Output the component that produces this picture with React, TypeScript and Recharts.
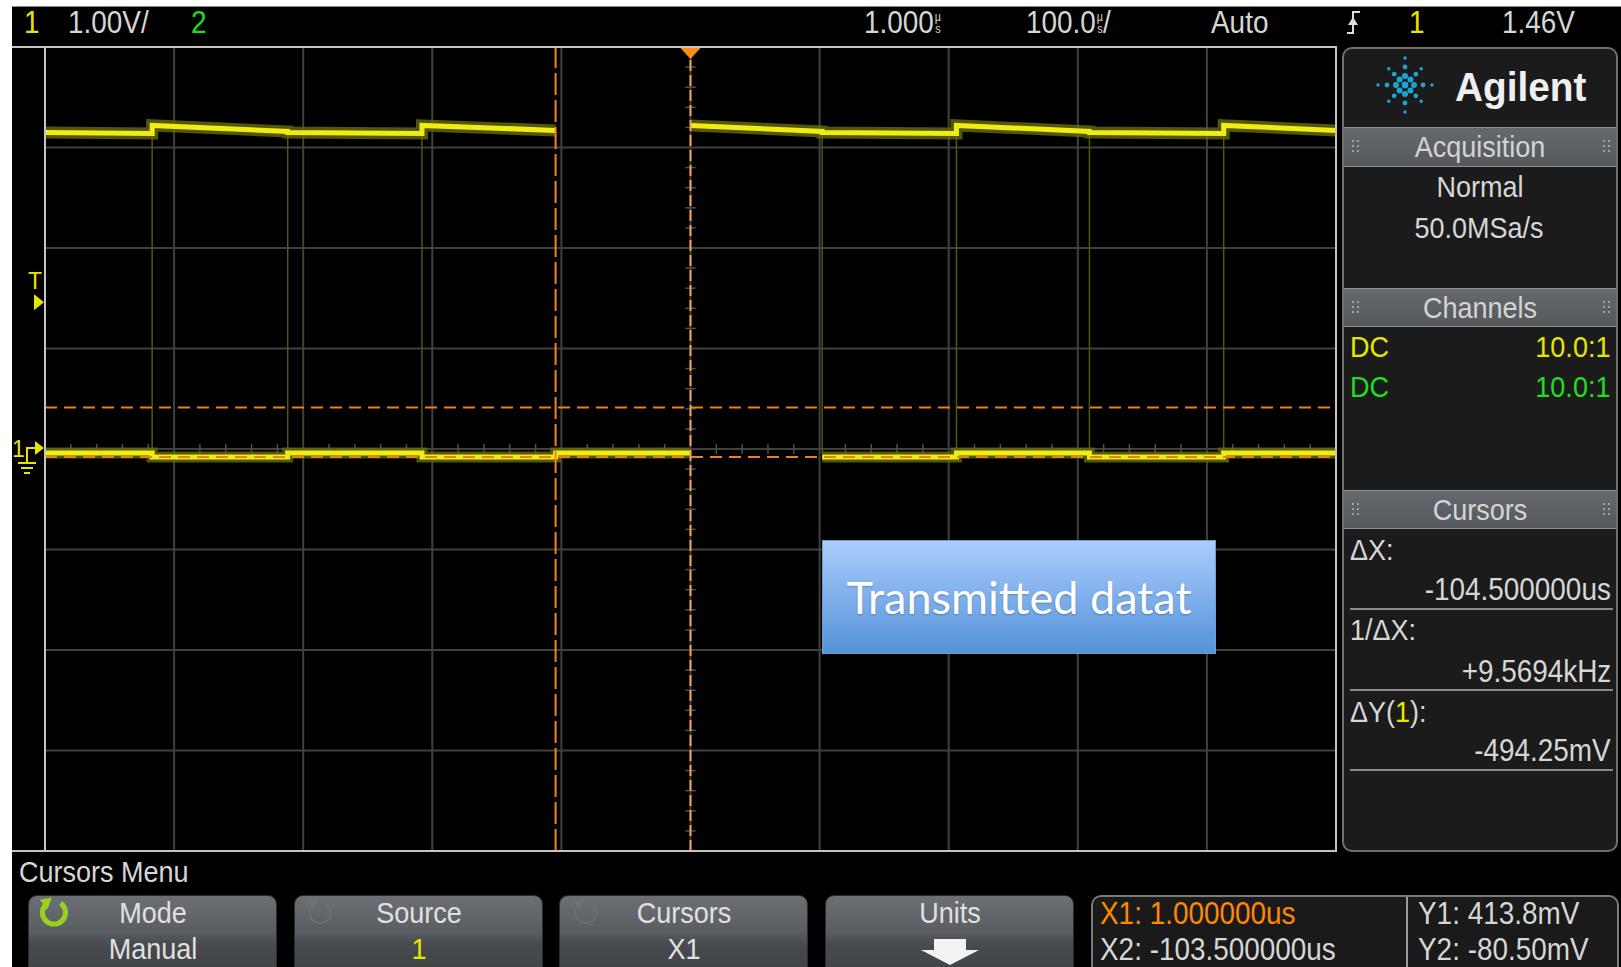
import React from 'react';
import { ComposedChart, Line, XAxis, YAxis, CartesianGrid, ReferenceLine, ReferenceDot } from 'recharts';

const W = 1621;
const H = 967;
const SCOPE = '"Liberation Sans", Arial, sans-serif';
const SQUEEZE = 0.9; // scope font is tall and narrow

// 100 us/div, 1.000 us delay -> screen spans -499..501 us; 1.00 V/div, 8 div
const xGridTicks = [-499, -399, -299, -199, -99, 1, 101, 201, 301, 401, 501];
const yGridTicks = [-4, -3, -2, -1, 0, 1, 2, 3, 4];

// bit boundaries (us), incl. screen edges
const bitBounds = [-499, -416, -311, -207, -103.5, 1, 103, 207, 310, 414, 501];
// upper trace level at start / end of each bit (V), null = not drawn
const upperStart = [3.15, 3.22, 3.15, 3.22, null, 3.22, 3.15, 3.22, 3.15, 3.22];
const upperEnd = [3.14, 3.16, 3.14, 3.17, null, 3.16, 3.14, 3.16, 3.14, 3.17];
// lower trace level per bit (V)
const lowerLevel = [-0.04, -0.08, -0.04, -0.08, -0.04, null, -0.08, -0.04, -0.08, -0.04];
// faint signal edges
const edgeTimes = [-416, -311, -207, 103, 207, 310, 414];

// cursors / trigger
const cursorX1 = 1.0;
const cursorX2 = -103.5;
const cursorY1 = 0.4138;
const cursorY2 = -0.0805;
const triggerLevel = 1.46;

// minor ticks on the centre axes (every 1/5 div)
const minorT = Array.from({ length: 49 }, (_, i) => -479 + i * 20).filter((t) => (t + 499) % 100 !== 0);
const minorV = Array.from({ length: 39 }, (_, i) => Math.round((-3.8 + i * 0.2) * 10) / 10).filter((v) => v % 1 !== 0);

function buildTrace(starts: (number | null)[], ends: (number | null)[]) {
  const pts: { t: number; v: number | null }[] = [];
  for (let i = 0; i < bitBounds.length - 1; i++) {
    const a = bitBounds[i];
    const b = bitBounds[i + 1];
    if (starts[i] == null) {
      pts.push({ t: (a + b) / 2, v: null });
      continue;
    }
    pts.push({ t: a, v: starts[i] }, { t: b, v: ends[i] });
  }
  return pts;
}
const upperTrace = buildTrace(upperStart, upperEnd);
const lowerTrace = buildTrace(lowerLevel, lowerLevel);

type TxtProps = {
  x: number;
  y: number;
  size?: number;
  color?: string;
  align?: 'left' | 'right' | 'center';
  weight?: number;
  font?: string;
  squeeze?: number;
  children: React.ReactNode;
};

const Txt = ({ x, y, size = 31, color = '#d6d6d6', align = 'left', weight = 400, font = SCOPE, squeeze = SQUEEZE, children }: TxtProps) => {
  const style: React.CSSProperties = {
    position: 'absolute',
    top: y - size / 2,
    fontSize: size,
    lineHeight: `${size}px`,
    height: size,
    color,
    fontFamily: font,
    fontWeight: weight,
    whiteSpace: 'nowrap',
  };
  if (align === 'left') style.left = x;
  else if (align === 'right') style.right = W - x;
  else {
    style.left = x;
    style.transform = 'translateX(-50%)';
  }
  const origin = align === 'left' ? 'left center' : align === 'right' ? 'right center' : 'center center';
  return (
    <div style={style}>
      <span style={{ display: 'inline-block', transform: `scaleX(${squeeze})`, transformOrigin: origin }}>{children}</span>
    </div>
  );
};

// small stacked "µ over s" unit glyph used by the scope
const Us = () => (
  <span
    style={{
      display: 'inline-block',
      fontSize: 12,
      lineHeight: '12px',
      verticalAlign: 'top',
      marginTop: 4,
      marginLeft: 1,
      textAlign: 'center',
    }}
  >
    µ<br />s
  </span>
);

const Grip = ({ x, y }: { x: number; y: number }) => (
  <svg style={{ position: 'absolute', left: x, top: y - 7 }} width={8} height={14}>
    {[0, 1, 2].map((r) =>
      [0, 1].map((c) => <rect key={`${r}-${c}`} x={c * 5} y={r * 5} width={2} height={2} fill="#a0a0a0" />)
    )}
  </svg>
);

const Header = ({ top, h, label }: { top: number; h: number; label: string }) => (
  <>
    <div
      style={{
        position: 'absolute',
        left: 1344,
        top,
        width: 272,
        height: h,
        background: 'linear-gradient(180deg, #65696d 0%, #55595d 100%)',
        borderTop: '1px solid #8d9195',
        borderBottom: '1px solid #8d9195',
        boxSizing: 'border-box',
      }}
    />
    <Grip x={1352} y={top + h / 2} />
    <Grip x={1603} y={top + h / 2} />
    <Txt x={1480} y={top + h / 2} size={30} align="center" color="#d4d4d4">
      {label}
    </Txt>
  </>
);

const RotIcon = ({ x, y, color, w, s = 1 }: { x: number; y: number; color: string; w: number; s?: number }) => (
  <svg style={{ position: 'absolute', left: x - 16, top: y - 16 }} width={32} height={32} viewBox="0 0 32 32">
    <g transform={`translate(16 16) scale(${s}) translate(-16 -16)`}>
      <path d="M 10 7 A 10.5 10.5 0 1 0 22 7" fill="none" stroke={color} strokeWidth={w} />
      <polygon points="3,4 14,2 10,13" fill={color} />
    </g>
  </svg>
);

const Button = ({ left, width, top, bottom, bottomColor, icon }: { left: number; width: number; top: string; bottom?: string; bottomColor?: string; icon?: React.ReactNode }) => (
  <>
    <div
      style={{
        position: 'absolute',
        left,
        top: 895,
        width,
        height: 90,
        borderRadius: '9px 9px 0 0',
        background: 'linear-gradient(180deg, #6c7074 0%, #5a5e62 40%, #474a4e 55%, #3d4043 100%)',
        border: '1px solid #2a2c2e',
        boxSizing: 'border-box',
      }}
    />
    {icon}
    <Txt x={left + width / 2} y={913} size={30} align="center" color="#e0e0e0">
      {top}
    </Txt>
    {bottom && (
      <Txt x={left + width / 2} y={949} size={30} align="center" color={bottomColor || '#e0e0e0'}>
        {bottom}
      </Txt>
    )}
  </>
);

const AgilentLogo = () => {
  const dots: React.ReactNode[] = [];
  for (let k = 0; k < 8; k++) {
    const ang = (k * Math.PI) / 4;
    const diag = k % 2 === 1 ? 0.85 : 1;
    [9, 18, 27].forEach((r, j) => {
      dots.push(
        <circle key={`${k}-${j}`} cx={33 + Math.cos(ang) * r * diag} cy={31 + Math.sin(ang) * r * diag} r={[3, 2.4, 1.7][j]} fill="#1ba6d2" />
      );
    });
  }
  return (
    <svg style={{ position: 'absolute', left: 1372, top: 54 }} width={66} height={64}>
      <circle cx={33} cy={31} r={3.4} fill="#1ba6d2" />
      {dots}
    </svg>
  );
};

const TriggerMark = (p: any) => (
  <polygon points={`${p.cx - 10},${p.cy + 1} ${p.cx + 10},${p.cy + 1} ${p.cx},${p.cy + 12}`} fill="#ff8c1a" />
);

const LevelMark = (p: any) => (
  <g>
    <text x={p.cx - 17} y={p.cy - 13} fill="#e6e600" fontSize={23} fontFamily={SCOPE}>
      T
    </text>
    <polygon points={`${p.cx - 11},${p.cy - 8} ${p.cx - 1},${p.cy} ${p.cx - 11},${p.cy + 8}`} fill="#e6e600" />
  </g>
);

const GroundMark = (p: any) => (
  <g stroke="#e6e600" strokeWidth={2} fill="none">
    <text x={p.cx - 33} y={p.cy + 8} fill="#e6e600" stroke="none" fontSize={23} fontFamily={SCOPE}>
      1
    </text>
    <path d={`M ${p.cx - 18} ${p.cy + 14} V ${p.cy - 1} H ${p.cx - 9}`} />
    <polygon points={`${p.cx - 10},${p.cy - 8} ${p.cx - 1},${p.cy - 1} ${p.cx - 10},${p.cy + 6}`} fill="#e6e600" stroke="none" />
    <path d={`M ${p.cx - 27} ${p.cy + 14} H ${p.cx - 9} M ${p.cx - 24} ${p.cy + 19} H ${p.cx - 12} M ${p.cx - 21} ${p.cy + 24} H ${p.cx - 15}`} />
  </g>
);

const ScopeChart = () => (
  <ComposedChart width={1325} height={806} margin={{ top: 1, right: 1, bottom: 1, left: 33 }}>
    <XAxis hide type="number" dataKey="t" domain={[-499, 501]} ticks={xGridTicks} allowDataOverflow />
    <YAxis hide type="number" dataKey="v" domain={[-4, 4]} ticks={yGridTicks} allowDataOverflow />
    <CartesianGrid stroke="#404040" strokeWidth={2} />
    {minorT.map((t) => (
      <ReferenceLine key={`mt${t}`} segment={[{ x: t, y: -0.05 }, { x: t, y: 0.05 }]} stroke="#505050" strokeWidth={1.5} />
    ))}
    {minorV.map((v) => (
      <ReferenceLine key={`mv${v}`} segment={[{ x: cursorX1 - 4, y: v }, { x: cursorX1 + 4, y: v }]} stroke="#505050" strokeWidth={1.5} />
    ))}
    {edgeTimes.map((t) => (
      <ReferenceLine key={`e${t}`} segment={[{ x: t, y: -0.05 }, { x: t, y: 3.17 }]} stroke="#56560f" strokeWidth={1.5} />
    ))}
    <Line data={upperTrace} dataKey="v" type="linear" stroke="#6a6a08" strokeOpacity={0.8} strokeWidth={12} dot={false} connectNulls={false} isAnimationActive={false} />
    <Line data={upperTrace} dataKey="v" type="linear" stroke="#eeee14" strokeWidth={5} dot={false} connectNulls={false} isAnimationActive={false} />
    <Line data={lowerTrace} dataKey="v" type="linear" stroke="#6a6a08" strokeOpacity={0.8} strokeWidth={11} dot={false} connectNulls={false} isAnimationActive={false} />
    <Line data={lowerTrace} dataKey="v" type="linear" stroke="#eeee14" strokeWidth={5} dot={false} connectNulls={false} isAnimationActive={false} />
    <ReferenceLine y={cursorY1} stroke="#e8821c" strokeWidth={2} strokeDasharray="12 7" />
    <ReferenceLine y={cursorY2} stroke="#e8821c" strokeWidth={2} strokeDasharray="12 7" />
    <ReferenceLine x={cursorX2} stroke="#f0861a" strokeWidth={2} strokeDasharray="22 5" />
    <ReferenceLine x={cursorX1} stroke="#f4a24c" strokeWidth={2} strokeDasharray="11 4" />
    <ReferenceDot x={cursorX1} y={4} r={0} shape={TriggerMark} ifOverflow="visible" />
    <ReferenceDot x={-499} y={triggerLevel} r={0} shape={LevelMark} ifOverflow="visible" />
    <ReferenceDot x={-499} y={0} r={0} shape={GroundMark} ifOverflow="visible" />
  </ComposedChart>
);

export default function App() {
  return (
    <div style={{ position: 'absolute', left: 0, top: 0, width: W, height: H, background: '#ffffff', overflow: 'hidden', fontFamily: SCOPE }}>
      <div style={{ position: 'absolute', left: 12, top: 6, right: 0, bottom: 0, background: '#000000', borderTop: '1px solid #8a8a8a' }} />

      {/* top status bar */}
      <Txt x={24} y={22} color="#e6e600">1</Txt>
      <Txt x={68} y={22}>1.00V/</Txt>
      <Txt x={191} y={22} color="#22dd22">2</Txt>
      <Txt x={864} y={22}>
        1.000<Us />
      </Txt>
      <Txt x={1026} y={22}>
        100.0<Us />/
      </Txt>
      <Txt x={1211} y={22}>Auto</Txt>
      <svg style={{ position: 'absolute', left: 1345, top: 9 }} width={18} height={27}>
        <path d="M 2 24 H 8 V 3 H 15" fill="none" stroke="#dddddd" strokeWidth={2} />
        <polygon points="3,16 13,16 8,8" fill="#dddddd" />
      </svg>
      <Txt x={1409} y={22} color="#e6e600">1</Txt>
      <Txt x={1502} y={22}>1.46V</Txt>

      {/* graticule + traces */}
      <div style={{ position: 'absolute', left: 12, top: 46 }}>
        <ScopeChart />
      </div>
      <div style={{ position: 'absolute', left: 12, top: 46, width: 1325, height: 2, background: '#c4c4c4' }} />
      <div style={{ position: 'absolute', left: 12, top: 850, width: 1325, height: 2, background: '#c4c4c4' }} />
      <div style={{ position: 'absolute', left: 44, top: 46, width: 2, height: 806, background: '#c4c4c4' }} />
      <div style={{ position: 'absolute', left: 1335, top: 46, width: 2, height: 806, background: '#c4c4c4' }} />

      {/* annotation */}
      <div
        style={{
          position: 'absolute',
          left: 822,
          top: 540,
          width: 394,
          height: 114,
          boxSizing: 'border-box',
          border: '1px solid #6d9ed8',
          background: 'linear-gradient(180deg, #abcdfb 0%, #8cb8f0 35%, #6ea4e4 70%, #5493d6 100%)',
          color: '#ffffff',
          fontFamily: 'Lato, "Open Sans", sans-serif',
          fontSize: 45,
          display: 'flex',
          alignItems: 'center',
          justifyContent: 'center',
          textShadow: '0 1px 2px rgba(0,0,0,0.25)',
        }}
      >
        Transmitted datat
      </div>

      {/* right side panel */}
      <div style={{ position: 'absolute', left: 1342, top: 47, width: 276, height: 805, background: '#1b1b1b', border: '2px solid #6f6f6f', borderRadius: 10, boxSizing: 'border-box' }} />
      <AgilentLogo />
      <Txt x={1455} y={87} size={40} weight={700} squeeze={0.97} color="#efefef">
        Agilent
      </Txt>
      <Header top={127} h={40} label="Acquisition" />
      <Txt x={1480} y={187} size={30} align="center">Normal</Txt>
      <Txt x={1479} y={228} size={30} align="center">50.0MSa/s</Txt>
      <Header top={288} h={39} label="Channels" />
      <Txt x={1350} y={347} size={30} color="#e6e600">DC</Txt>
      <Txt x={1610} y={347} size={30} align="right" color="#e6e600">10.0:1</Txt>
      <Txt x={1350} y={387} size={30} color="#22dd22">DC</Txt>
      <Txt x={1610} y={387} size={30} align="right" color="#22dd22">10.0:1</Txt>
      <Header top={490} h={39} label="Cursors" />
      <Txt x={1350} y={550} size={30}>ΔX:</Txt>
      <Txt x={1611} y={589} size={31} align="right">-104.500000us</Txt>
      <div style={{ position: 'absolute', left: 1350, top: 608, width: 263, height: 2, background: '#8a8a8a' }} />
      <Txt x={1350} y={630} size={30}>1/ΔX:</Txt>
      <Txt x={1611} y={671} size={31} align="right">+9.5694kHz</Txt>
      <div style={{ position: 'absolute', left: 1350, top: 689, width: 263, height: 2, background: '#8a8a8a' }} />
      <Txt x={1350} y={712} size={30}>
        ΔY(<span style={{ color: '#e6e600' }}>1</span>):
      </Txt>
      <Txt x={1611} y={750} size={31} align="right">-494.25mV</Txt>
      <div style={{ position: 'absolute', left: 1350, top: 769, width: 263, height: 2, background: '#8a8a8a' }} />

      {/* softkey menu */}
      <Txt x={19} y={872} size={30}>Cursors Menu</Txt>
      <Button left={28} width={249} top="Mode" bottom="Manual" icon={<RotIcon x={54} y={913} color="#9ad11e" w={4.5} s={1.1} />} />
      <Button left={294} width={249} top="Source" bottom="1" bottomColor="#e6e600" icon={<RotIcon x={320} y={913} color="#6e7175" w={1.5} />} />
      <Button left={559} width={249} top="Cursors" bottom="X1" icon={<RotIcon x={586} y={913} color="#6e7175" w={1.5} />} />
      <Button left={825} width={249} top="Units" />
      <svg style={{ position: 'absolute', left: 919, top: 938 }} width={62} height={28}>
        <polygon points="15,1 47,1 47,12 60,12 31,27 2,12 15,12" fill="#f2f2f2" />
      </svg>

      {/* cursor readout */}
      <div style={{ position: 'absolute', left: 1091, top: 895, width: 528, height: 90, background: '#1a1a1a', border: '2px solid #7a7a7a', borderRadius: 10, boxSizing: 'border-box' }} />
      <div style={{ position: 'absolute', left: 1406, top: 897, width: 2, height: 70, background: '#9a9a9a' }} />
      <Txt x={1100} y={913} color="#ff8a00">X1: 1.000000us</Txt>
      <Txt x={1100} y={949}>X2: -103.500000us</Txt>
      <Txt x={1418} y={913}>Y1: 413.8mV</Txt>
      <Txt x={1418} y={949}>Y2: -80.50mV</Txt>
    </div>
  );
}
